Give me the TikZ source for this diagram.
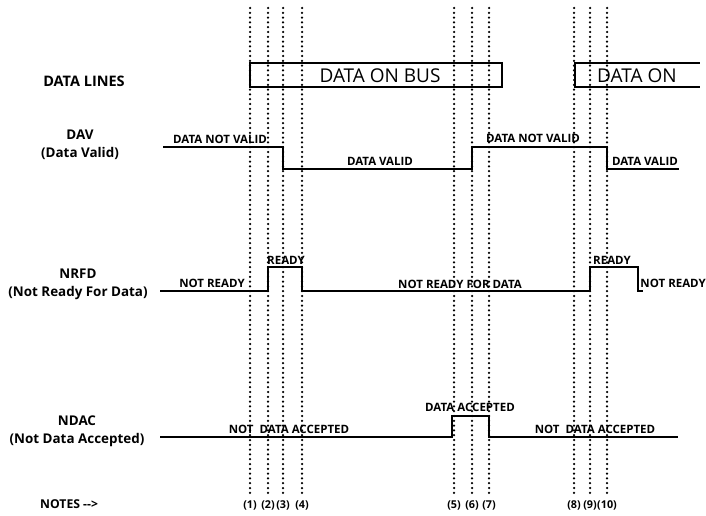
\documentclass[tikz,border=0pt]{standalone}
\usepackage{fontspec}
\setmainfont{Open Sans}
\begin{document}
\begin{tikzpicture}[x=1pt,y=-1pt,
  sig/.style={line width=1.4pt},
  edge/.style={line width=2.4pt},
  guide/.style={line width=2.5pt, dash pattern=on 0pt off 4.8pt, line cap=round},
  lbl/.style={font=\bfseries\fontsize{13.4}{18}\selectfont, align=center, inner sep=0pt},
  tag/.style={font=\bfseries\fontsize{11.5}{13}\selectfont, inner sep=0pt},
  num/.style={font=\bfseries\fontsize{10.8}{12}\selectfont, inner sep=0pt},
  bus/.style={font=\fontsize{19}{22}\selectfont, inner sep=0pt}]
\useasboundingbox (0,0) rectangle (706,516);

% guide lines with their numbers
\foreach \i/\x in {1/250,2/268,3/283,4/302,5/454,6/472,7/489,8/574,9/590,10/607}{
  \coordinate (g\i) at (\x,8);
  \node[num] (n\i) at (\x,505) {(\i)};
  \draw[guide] (g\i) -- ([yshift=3pt]n\i.north);
}

% row labels
\node[lbl, font=\bfseries\fontsize{14.5}{18}\selectfont] (ldata) at (84,81) {DATA LINES};
\node[lbl] (ldav) at (80,145) {DAV\\(Data Valid)};
\node[lbl] (lnrfd) at (78,284) {NRFD\\(Not Ready For Data)};
\node[lbl] (lndac) at (77,431) {NDAC\\(Not Data Accepted)};
\node[lbl, anchor=west, font=\bfseries\fontsize{12.2}{14}\selectfont] (lnotes) at (40,504) {NOTES -{}->};

% data lines
\draw[sig] (250,63) -- (502,63) (250,87) -- (502,87);
\draw[edge] (250,62) -- (250,88) (502,62) -- (502,88);
\node[bus] (bus1) at (380,76) {DATA ON BUS};
\draw[sig] (575,63) -- (700,63) (575,87) -- (700,87);
\draw[edge] (575,62) -- (575,88);
\node[bus, anchor=west] (bus2) at (597,76) {DATA ON};

% DAV
\draw[sig] (163,147) -- (283,147) -- (283,169) -- (472,169) -- (472,147)
  -- (607,147) -- (607,169) -- (679,169);
\draw[edge] (283,146) -- (283,170) (472,146) -- (472,170) (607,146) -- (607,170);
\node[tag] (dav1) at (220,139) {DATA NOT VALID};
\node[tag] (dav2) at (380,161) {DATA VALID};
\node[tag] (dav3) at (533,138) {DATA NOT VALID};
\node[tag] (dav4) at (645,161) {DATA VALID};

% NRFD
\draw[sig] (160,291) -- (268,291) -- (268,267) -- (302,267) -- (302,291)
  -- (590,291) -- (590,267) -- (638,267) -- (638,291) -- (643,291);
\draw[edge] (268,266) -- (268,292) (302,266) -- (302,292) (590,266) -- (590,292) (638,266) -- (638,292);
\node[tag] (nr1) at (212,283) {NOT READY};
\node[tag] (nr2) at (286,260) {READY};
\node[tag] (nr3) at (460,284) {NOT READY FOR DATA};
\node[tag] (nr4) at (612,260) {READY};
\node[tag, anchor=east] (nr5) at (706,283) {NOT READY};

% NDAC
\draw[sig] (160,437) -- (452,437) -- (452,416) -- (489,416) -- (489,437) -- (678,437);
\draw[edge] (452,415) -- (452,438) (489,415) -- (489,438);
\node[tag] (nd1) at (289,429) {NOT\ \ DATA ACCEPTED};
\node[tag] (nd2) at (470,407) {DATA ACCEPTED};
\node[tag] (nd3) at (595,429) {NOT\ \ DATA ACCEPTED};
\end{tikzpicture}
\end{document}
